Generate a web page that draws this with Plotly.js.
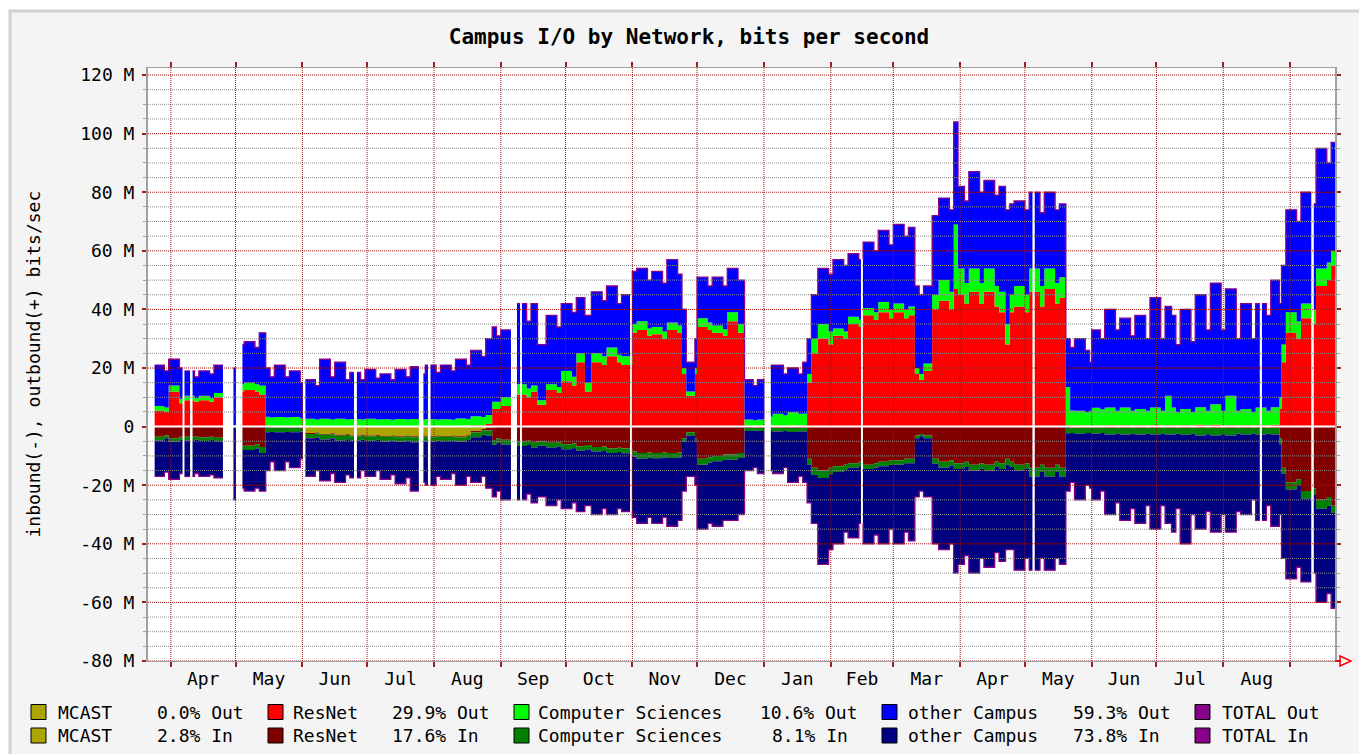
<!DOCTYPE html>
<html><head><meta charset="utf-8">
<script src="https://cdn.plot.ly/plotly-3.0.1.min.js"></script>
<style>html,body{margin:0;padding:0;background:#fff}#chart{width:1359px;height:754px}</style>
</head><body><div id="chart"></div>
<script>
// ---------------- DATA (values in Mbit/s, inbound negative) ----------------
const dates = [
'2003-03-21','2003-03-22','2003-03-24','2003-03-29','2003-03-31','2003-04-05','2003-04-07','2003-04-12','2003-04-14','2003-04-19',
'2003-04-21','2003-04-26','2003-04-28','2003-05-03','2003-05-05','2003-05-10','2003-05-12','2003-05-15','2003-05-17','2003-05-19',
'2003-05-24','2003-05-26','2003-05-31','2003-06-02','2003-06-07','2003-06-09','2003-06-14','2003-06-16','2003-06-21','2003-06-23',
'2003-06-28','2003-06-30','2003-07-05','2003-07-07','2003-07-12','2003-07-14','2003-07-19','2003-07-21','2003-07-26','2003-07-28',
'2003-08-02','2003-08-04','2003-08-09','2003-08-11','2003-08-16','2003-08-18','2003-08-23','2003-08-25','2003-08-28','2003-08-30',
'2003-09-01','2003-09-06','2003-09-08','2003-09-13','2003-09-15','2003-09-18','2003-09-22','2003-09-27','2003-09-29','2003-10-04',
'2003-10-06','2003-10-10','2003-10-13','2003-10-18','2003-10-20','2003-10-25','2003-10-27','2003-11-01','2003-11-03','2003-11-08',
'2003-11-10','2003-11-15','2003-11-17','2003-11-22','2003-11-24','2003-11-26','2003-11-30','2003-12-01','2003-12-06','2003-12-08',
'2003-12-13','2003-12-15','2003-12-20','2003-12-23','2003-12-27','2003-12-29','2004-01-03','2004-01-05','2004-01-10','2004-01-12',
'2004-01-17','2004-01-19','2004-01-21','2004-01-23','2004-01-26','2004-01-31','2004-02-02','2004-02-07','2004-02-09','2004-02-14',
'2004-02-16','2004-02-21','2004-02-23','2004-02-28','2004-03-01','2004-03-06','2004-03-08','2004-03-11','2004-03-13','2004-03-15',
'2004-03-19','2004-03-22','2004-03-27','2004-03-29','2004-03-31','2004-04-03','2004-04-05','2004-04-10','2004-04-12','2004-04-17',
'2004-04-19','2004-04-22','2004-04-24','2004-04-26','2004-05-01','2004-05-03','2004-05-08','2004-05-10','2004-05-15','2004-05-17',
'2004-05-20','2004-05-22','2004-05-24','2004-05-29','2004-05-31','2004-06-01','2004-06-05','2004-06-07','2004-06-12','2004-06-14',
'2004-06-19','2004-06-21','2004-06-26','2004-06-28','2004-07-03','2004-07-05','2004-07-08','2004-07-10','2004-07-12','2004-07-17',
'2004-07-19','2004-07-24','2004-07-26','2004-07-31','2004-08-02','2004-08-07','2004-08-09','2004-08-14','2004-08-16','2004-08-21',
'2004-08-23','2004-08-27','2004-08-28','2004-08-30','2004-09-04','2004-09-06','2004-09-11','2004-09-13','2004-09-18','2004-09-20'
];

const mcastOut = [
0,0,0,0,0,0,0,0,0,0, 0,0,0,0,0,0,0,0,0,0, 0,0,0,0,0,0,0,0,0,0, 0,0,0,0,0,0,0,0,0,0,
0,0,0,0,0,0,0,0,0,0, 0,0,0,0,0,0,0,0,0,0, 0,0,0,0,0,0,0,0,0,0, 0,0,0,0,0,0,0,0,0,0,
0,0,0,0,0,0,0,0,0,0, 0,0,0,0,0,0,0,0,0,0, 0,0,0,0,0,0,0,0,0,0, 0,0,0,0,0,0,0,0,0,0,
0,0,0,0,0,0,0,0,0,0, 0,0,0,0,0,0,0,0,0,0, 0,0,0,0,0,0,0,0,0,0, 0,0,0,0,0,0,0,0,0,0,
0,0,0,0,0,0,0,0,0,0
];
const resnetOut = [
5,5,5.5,5,12,8,9,8.5,9,8.5,
10,9,0,12,12.5,12,11,0.4,0.3,0.3,
0.3,0.3,0.3,0.2,0.2,0.2,0.2,0.2,0.2,0.2,
0.2,0.2,0.2,0.2,0.2,0.2,0.2,0.2,0.2,0.2,
0.2,0.2,0.2,0.3,0.3,0.5,0.5,1,6,6,
7,7,11,10,12,7.5,12.5,11.5,15.5,14,
22,12,22,21,24,22,21,32,33,31,
31.5,30,33,32,18,10.5,18,34,33,32,
31,36,32,0.4,0.4,0.4,0.4,0.4,0.4,0.4,
0.4,0.5,15,25,30,28,31,30,35,34,
38,36.5,39,37,39,37,38,18,16,19,
40,43,40,47,45,42,46,42,46,41,
39,28,39,41,39,46,41,47,42,44,
0.5,0.5,0.4,0.4,0.4,0.4,0.4,0.5,0.4,0.5,
0.4,0.5,0.4,0.5,0.4,0.5,0.5,0.4,0.5,0.4,
0.6,0.4,0.6,0.4,0.5,0.4,0.5,0.4,0.5,0.4,
0.6,6,22,32,30,37,35,48,50,55
];
const csOut = [
1.5,1.5,1.5,1.5,2,1.5,1.5,1.2,1.5,1.2,
1.5,1.5,0.5,2.5,2.5,2.5,3,3,2.8,3,
2.8,3,2.5,2.5,2.2,2.5,2.2,2.5,2.2,2.4,
2.2,2.5,2.2,2.3,2.1,2.4,2.2,2.4,2.2,2.4,
2.2,2.3,2.1,2.5,2.3,3,2.8,3,2.5,2.5,
3,2.8,3.5,3,2,1.5,2,2,3.5,3,
3,3,3,3,3,2.5,3,3,3,2.5,
2.5,2.5,2.5,2.5,2,1.5,2,3,2.5,2.5,
2.2,3,3,2,1.8,2,3,4,3.5,4.5,
4,4,3,5,5,4.5,2.5,2.5,2.5,2.5,
2.5,2.5,3.5,3,3,3,3,2,2,2.5,
5,7,6,22,9,7,8,7,8,7,
7,7,6,7,6,8,7,7,7,7,
13,5,5,4.5,5,6,5.5,6,5,6,
5,5.5,5,6,5,10,6,4.5,5.5,4.5,
6,5,7,5,10,5,5.5,4.5,6,5,
6,4,6,7,6,5,5,6,6,5
];
const otherOut = [
14.5,13.5,14,12.5,9,10.5,8.5,7.3,8.5,8.3,
9.5,9.5,19.5,13.5,14,12.5,18,16.6,13.9,17.7,
13.9,15.7,12.2,13.3,11.6,20.3,14.6,19.3,13.6,15.9,
13.6,16.8,14.1,15.5,13.7,16.9,14.6,17.9,15.6,18.4,
16.1,18.5,16.7,20.2,18.4,22.5,20.7,26,25.5,22.5,
23,20.2,27.5,23,28,19,23.5,20.5,23,22,
19,23,21,19,21,17.5,21,18,18,16.5,
19,16.5,21.5,17.5,20,10,10,14,12.5,16.5,
14.8,15,15,13.6,11.8,13.6,17.6,16.6,14.1,15.1,
13.6,17.5,12,15,19,19.5,23.5,22.5,21.5,20.5,
22.5,21,24.5,22,27,25,27,28,27,26.5,
27,28,28,35,28,28,33,31,30,31,
36,39,31,29,29,26,25,26,25,25,
16.5,21.5,24.6,21.1,16.6,26.6,24.1,33.5,27.6,30.5,
25.6,32,24.6,37.5,24.6,30.5,31.5,23.1,34,24.1,
38.4,27.6,41.4,27.6,36.5,24.6,36,25.1,35.5,32.6,
43.4,32,27,35,34,38,36,41,34,37
];
const mcastIn = [
0,0,0,0,0,0,0,0,0,0,
0,0,0,0,0,0,0,0,0,0,
0,0,0,-2.2,-2,-2.5,-2.3,-2.8,-2.6,-3,
-2.8,-3,-2.8,-3.2,-3,-3.3,-3,-3.3,-3,-3.3,
-3,-3.2,-3,-3.3,-2.8,-1.5,-0.8,-0.3,-0.2,0,
0,0,0,0,0,0,0,0,0,0, 0,0,0,0,0,0,0,0,0,0, 0,0,0,0,0,0,0,0,0,0,
0,0,0,0,0,0,0,0,0,0, 0,0,0,0,0,0,0,0,0,0, 0,0,0,0,0,0,0,0,0,0,
0,0,0,0,0,0,0,0,0,0, 0,0,0,0,0,0,0,0,0,0, 0,0,0,0,0,0,0,0,0,0,
0,0,0,0,0,0,0,0,0,0, 0,0,0,0,0,0,0,0,0,0, 0,0,0,0,0,0,0,0,0,0
];
const resnetIn = [
-3.5,-3.5,-3.5,-3,-4,-3.5,-3.5,-3.5,-3.7,-3.5,
-3.8,-3.5,0,-6.5,-6.5,-6,-7,-0.4,-0.3,-0.3,
-0.3,-0.3,-0.3,-0.3,-0.3,-0.3,-0.3,-0.3,-0.3,-0.3,
-0.3,-0.3,-0.3,-0.3,-0.3,-0.3,-0.3,-0.3,-0.3,-0.3,
-0.3,-0.3,-0.3,-0.3,-0.3,-0.5,-0.5,-1,-4.4,-4,
-4.5,-4.2,-5,-4.8,-5.5,-5,-5.5,-5.3,-6,-5.8,
-6.7,-6.3,-7,-6.8,-7.5,-7.2,-7.5,-8.5,-9,-8.8,
-9,-8.8,-9,-8.8,-4,-2,-4,-11,-10.5,-10,
-9.5,-9.5,-9,-0.5,-0.4,-0.5,-0.5,-0.5,-0.5,-0.5,
-0.5,-0.5,-11,-14,-15,-14,-13.5,-13,-12.5,-12,
-13,-12.5,-12,-11.5,-11.5,-11,-11,-3,-2.5,-3,
-11,-12,-11.5,-12.5,-12.5,-12,-13,-12.5,-13,-12,
-12.5,-11,-12,-13,-12.5,-14,-13,-14,-13,-14,
-0.5,-0.4,-0.4,-0.4,-0.4,-0.4,-0.4,-0.5,-0.4,-0.5,
-0.4,-0.5,-0.4,-0.5,-0.4,-0.5,-0.5,-0.4,-0.5,-0.4,
-0.5,-0.4,-0.5,-0.4,-0.5,-0.4,-0.5,-0.4,-0.5,-0.4,
-0.5,-4,-14,-19,-18,-22,-21,-25,-24,-27
];
const csIn = [
-1,-1,-1.2,-1,-1.2,-1,-1.2,-1,-1.2,-1,
-1.2,-1,-0.5,-1.5,-1.5,-1.5,-2,-1.5,-1.5,-1.6,
-1.5,-1.6,-1.4,-1.5,-1.4,-1.6,-1.4,-1.6,-1.4,-1.5,
-1.4,-1.5,-1.4,-1.6,-1.4,-1.6,-1.5,-1.7,-1.5,-1.6,
-1.5,-1.5,-1.4,-1.6,-1.5,-1.6,-1.5,-1.8,-1.6,-1.5,
-1.6,-1.5,-1.6,-1.5,-1.6,-1.5,-1.6,-1.5,-1.7,-1.6,
-1.5,-1.5,-1.5,-1.5,-1.5,-1.5,-1.6,-1.8,-2,-1.8,
-1.8,-1.7,-1.7,-1.7,-1.2,-1,-1.2,-2,-1.8,-1.8,
-1.7,-1.8,-1.7,-1,-0.9,-1,-1,-1.2,-1,-1.3,
-1.2,-1.2,-2,-2.5,-2.5,-2.3,-2,-1.8,-1.5,-1.5,
-1.5,-1.5,-1.5,-1.5,-1.5,-1.5,-1.5,-1,-0.8,-1,
-1.7,-2,-1.8,-2,-2,-1.8,-2,-1.8,-2,-1.8,
-2,-2,-1.8,-2,-1.8,-3,-2.5,-3,-2.5,-3,
-1.8,-1.8,-2,-1.8,-1.8,-2,-1.8,-2.2,-2,-2.2,
-2,-2.2,-2,-2.2,-2,-2.2,-2.2,-2,-2.3,-2,
-2.5,-2.2,-2.5,-2.2,-2.5,-2,-2.2,-2,-2.2,-2,
-2.2,-2,-2,-2.5,-2.3,-2.5,-2.3,-3,-3,-2.5
];
const otherIn = [
-12.5,-11.5,-12.3,-11.5,-12.8,-11.5,-12.3,-11.5,-12.1,-12,
-12.5,-12.5,-24.5,-13,-14,-13.5,-13,-13.1,-10.2,-13.1,
-10.2,-12.1,-9.3,-13,-11.3,-14.1,-12,-14.3,-12.2,-12.7,
-10.5,-12.2,-10.5,-12.9,-11.8,-14.3,-12.7,-16.7,-14.2,-14.8,
-12.2,-13,-11.3,-14.8,-12.4,-15.4,-14.2,-17.9,-17.8,-16.5,
-18.9,-17.3,-18.4,-16.7,-18.9,-17.5,-19.9,-18.2,-20.3,-18.6,
-20.8,-19.2,-21.5,-19.7,-21,-19.3,-19.9,-20.7,-22,-20.4,
-22.2,-20.5,-23.3,-21.5,-16.8,-14,-14.8,-22,-20.7,-22.2,
-20.8,-20.7,-19.3,-13.5,-12.7,-14.5,-13.5,-14.3,-12.5,-17.2,
-15.3,-17.3,-13,-16.5,-29.5,-25.7,-24.5,-21.2,-24,-19.5,
-25.5,-23,-26.5,-22,-27,-23.5,-26.5,-20,-18.7,-20,
-27.3,-28,-26.7,-35.5,-32.5,-30.2,-35,-30.7,-33,-29.2,
-31.5,-29,-28.2,-34,-30.7,-32,-29.5,-32,-29.5,-30,
-19.7,-16.8,-22.6,-17.8,-18.8,-22.6,-19.8,-27.3,-23.6,-29.3,
-25.6,-30.3,-24.6,-32.3,-24.6,-30.3,-33.3,-25.6,-37.2,-27.6,
-32,-26.4,-33,-27.4,-33,-26.6,-27.3,-22.6,-29.3,-24.6,
-31.3,-24,-29,-30.5,-27.7,-28.5,-26.7,-32,-30,-32.5
];

// periods with no data (drawn empty)
const gapStart = ['2003-03-21 00:00','2003-04-06 10:00','2003-04-09 22:00','2003-04-25 04:00','2003-05-01 05:00','2003-06-01 06:00','2003-06-24 22:00','2003-07-25 00:00','2003-07-29 05:00','2003-09-05 17:00','2003-09-09 22:00','2003-10-30 22:00','2004-01-01 05:00','2004-02-15 00:00','2004-05-04 12:00','2004-08-17 22:00','2004-09-10 19:00'];
const gapEnd   = ['2003-03-24 12:00','2003-04-07 08:00','2003-04-11 02:00','2003-04-30 01:00','2003-05-04 05:00','2003-06-02 10:00','2003-06-26 07:00','2003-07-27 03:00','2003-07-30 10:00','2003-09-08 12:00','2003-09-10 19:00','2003-10-31 19:00','2004-01-04 05:00','2004-02-15 22:00','2004-05-05 14:00','2004-08-18 22:00','2004-09-11 23:00'];

// axis ticks / labels
const monthStarts = ['2003-04-01','2003-05-01','2003-06-01','2003-07-01','2003-08-01','2003-09-01','2003-10-01','2003-11-01','2003-12-01','2004-01-01','2004-02-01','2004-03-01','2004-04-01','2004-05-01','2004-06-01','2004-07-01','2004-08-01','2004-09-01'];
const monthLabels = ['Apr','May','Jun','Jul','Aug','Sep','Oct','Nov','Dec','Jan','Feb','Mar','Apr','May','Jun','Jul','Aug'];
const yTickVals = [-80,-60,-40,-20,0,20,40,60,80,100,120];
const yTickText = ['-80 M','-60 M','-40 M','-20 M','0','20 M','40 M','60 M','80 M','100 M','120 M'];
const yMinorVals = [-75,-70,-65,-55,-50,-45,-35,-30,-25,-15,-10,-5,5,10,15,25,30,35,45,50,55,65,70,75,85,90,95,105,110,115];

// legend text
const legendNames = ['MCAST','ResNet','Computer Sciences','other Campus','TOTAL Out'];
const legendNamesIn = ['MCAST','ResNet','Computer Sciences','other Campus','TOTAL In'];
const legendOutPct = ['0.0% Out','29.9% Out','10.6% Out','59.3% Out'];
const legendInPct = ['2.8% In','17.6% In','8.1% In','73.8% In'];

// ---------------- STYLE / LAYOUT ----------------
const FONT = 'DejaVu Sans Mono, monospace';
const colOut = ['#aaa500','#ff0000','#00ff00','#0000ff','#880088'];
const colIn  = ['#aaa500','#800000','#008000','#000080','#880088'];
const rangeStart = '2003-03-21 10:00', rangeEnd = '2004-09-21 19:00';
const L = 148, R = 1335, TOP = 68, BOT = 661;
const px2x = p => (p - L) / (R - L);
const py2y = p => (BOT - p) / (BOT - TOP);

function ms(s){ const p = s.split(' '); return Date.parse(p[0] + 'T' + (p[1] || '00:00') + ':00Z'); }
const sampleMs = dates.map(ms);
const gaps = gapStart.map((s,i) => [ms(s), ms(gapEnd[i])]);
const endMs = ms(rangeEnd);
const times = Array.from(new Set(sampleMs.concat(gaps.flat(), [endMs]))).sort((a,b)=>a-b);
function gapOf(t){ return gaps.find(g => t >= g[0] && t < g[1]); }
function idxAt(t){ let k = -1; for (let i = 0; i < sampleMs.length; i++){ if (sampleMs[i] <= t) k = i; else break; } return k; }
const iso = t => new Date(t).toISOString().slice(0,19).replace('T',' ');
const xs = times.map(iso);
function stepped(vals){ return times.map(t => { if (gapOf(t)) return 0; const k = idxAt(t); return k < 0 ? 0 : vals[k]; }); }

// total lines (break inside gaps)
const timesT = Array.from(new Set(times.concat(gaps.map(g => g[0] + 60000)))).sort((a,b)=>a-b);
function totalLine(series){
  return timesT.map(t => {
    const g = gapOf(t);
    if (g && t !== g[0]) return null;
    const k = idxAt(t); if (k < 0) return null;
    return series.reduce((s, arr) => s + arr[k], 0);
  });
}

function area(vals, color, group){
  return {type:'scatter', mode:'lines', x: xs, y: stepped(vals), stackgroup: group,
          line:{width:0, shape:'hv'}, fillcolor: color, hoverinfo:'skip', showlegend:false};
}
const traces = [
  area(mcastOut, colOut[0], 'out'), area(resnetOut, colOut[1], 'out'), area(csOut, colOut[2], 'out'), area(otherOut, colOut[3], 'out'),
  area(mcastIn, colIn[0], 'in'), area(resnetIn, colIn[1], 'in'), area(csIn, colIn[2], 'in'), area(otherIn, colIn[3], 'in'),
  {type:'scatter', mode:'lines', x: timesT.map(iso), y: totalLine([mcastOut,resnetOut,csOut,otherOut]), connectgaps:false,
   line:{color: colOut[4], width:1.3, shape:'hv'}, hoverinfo:'skip', showlegend:false},
  {type:'scatter', mode:'lines', x: timesT.map(iso), y: totalLine([mcastIn,resnetIn,csIn,otherIn]), connectgaps:false,
   line:{color: colIn[4], width:1.3, shape:'hv'}, hoverinfo:'skip', showlegend:false}
];

const monthMid = monthLabels.map((_, i) => iso((ms(monthStarts[i]) + ms(monthStarts[i+1])) / 2));

const shapes = [];
shapes.push({type:'rect', xref:'paper', yref:'paper', x0:px2x(10), x1:px2x(1380), y0:py2y(780), y1:py2y(11), fillcolor:'#f4f4f4', line:{color:'#d0d0d0', width:3}, layer:'below'});
shapes.push({type:'rect', xref:'paper', yref:'paper', x0:0, x1:1, y0:0, y1:1, fillcolor:'#ffffff', line:{width:0}, layer:'below'});
yMinorVals.forEach(v => shapes.push({type:'line', xref:'paper', x0:0, x1:1, yref:'y', y0:v, y1:v, line:{color:'#8e8e8e', width:1, dash:'1px,1px'}, layer:'above'}));
yTickVals.forEach(v => shapes.push({type:'line', xref:'paper', x0:0, x1:1, yref:'y', y0:v, y1:v, line:{color:'#a01414', width:1, dash:'1px,1px'}, layer:'above'}));
monthStarts.forEach(d => shapes.push({type:'line', xref:'x', x0:d, x1:d, yref:'paper', y0:0, y1:1, line:{color:'#a01414', width:1, dash:'1px,1px'}, layer:'above'}));
shapes.push({type:'line', xref:'paper', x0:0, x1:1, yref:'y', y0:0, y1:0, line:{color:'#ffffff', width:2}, layer:'above'});
shapes.push({type:'path', xref:'paper', yref:'paper', xsizemode:'pixel', ysizemode:'pixel', xanchor:1, yanchor:0,
             path:'M 0 0 L 5 0 M 5 -5 L 16 0 L 5 5 Z', line:{color:'#ff0000', width:1.5}, fillcolor:'rgba(0,0,0,0)', layer:'above'});

const annotations = [];
const txtFont = {family: FONT, size: 18, color: '#000'};
const sqX = [31, 268, 514, 882, 1195];
const nameX = [58, 293, 538, 908, 1222];
const pctOutX = [157, 392, 760, 1073];
const pctInX = [157, 392, 772, 1073];
const rowY = [712, 735.5];
for (let i = 0; i < 5; i++){
  [0,1].forEach(r => {
    shapes.push({type:'rect', xref:'paper', yref:'paper', x0:px2x(sqX[i]), x1:px2x(sqX[i]+15), y0:py2y(rowY[r]-7.5), y1:py2y(rowY[r]+7.5),
                 fillcolor: r === 0 ? colOut[i] : colIn[i], line:{color:'#000', width:1}, layer:'above'});
    annotations.push({xref:'paper', yref:'paper', x:px2x(nameX[i]-2), y:py2y(rowY[r]), xanchor:'left', yanchor:'middle', showarrow:false,
                      text: r === 0 ? legendNames[i] : legendNamesIn[i], font: txtFont});
    if (i < 4) annotations.push({xref:'paper', yref:'paper', x:px2x((r === 0 ? pctOutX[i] : pctInX[i]) - 2), y:py2y(rowY[r]), xanchor:'left', yanchor:'middle', showarrow:false,
                      text: r === 0 ? legendOutPct[i] : legendInPct[i], font: txtFont});
  });
}
annotations.push({xref:'paper', yref:'paper', x:px2x(33), y:0.5, xanchor:'center', yanchor:'middle', textangle:-90, showarrow:false,
                  text:'inbound(-), outbound(+) bits/sec', font: txtFont});

const layout = {
  width: 1359, height: 754, autosize: false,
  margin: {l: L, r: 1359 - R, t: TOP, b: 754 - BOT, pad: 0},
  paper_bgcolor: '#ffffff', plot_bgcolor: 'rgba(0,0,0,0)', showlegend: false,
  title: {text: '<b>Campus I/O by Network, bits per second</b>', font: {family: FONT, size: 21, color: '#000'},
          xref: 'container', yref: 'container', x: 689/1359, y: 1 - 37/754, xanchor: 'center', yanchor: 'middle'},
  xaxis: {type: 'date', range: [rangeStart, rangeEnd], tickmode: 'array', tickvals: monthMid, ticktext: monthLabels,
          ticks: '', showgrid: false, zeroline: false, showline: true, linecolor: '#a0a0a0', linewidth: 1, mirror: 'ticks',
          layer: 'above traces', tickfont: txtFont, ticklabelstandoff: 1, fixedrange: true,
          minor: {tickmode: 'array', tickvals: monthStarts, ticks: 'outside', ticklen: 5, tickwidth: 2, tickcolor: '#a02020', showgrid: false}},
  yaxis: {range: [-80, 122.4], tickmode: 'array', tickvals: yTickVals, ticktext: yTickText,
          ticks: 'outside', ticklen: 4, tickwidth: 2, tickcolor: '#a02020', showgrid: false, zeroline: false,
          showline: true, linecolor: '#a0a0a0', linewidth: 2, mirror: 'ticks', layer: 'above traces',
          tickfont: txtFont, ticklabelstandoff: 4, fixedrange: true,
          minor: {tickmode: 'array', tickvals: yMinorVals, ticks: 'outside', ticklen: 3, tickwidth: 1, tickcolor: '#a0a0a0', showgrid: false}},
  shapes: shapes, annotations: annotations
};

Plotly.newPlot('chart', traces, layout, {staticPlot: true, displayModeBar: false});
</script>
</body></html>
